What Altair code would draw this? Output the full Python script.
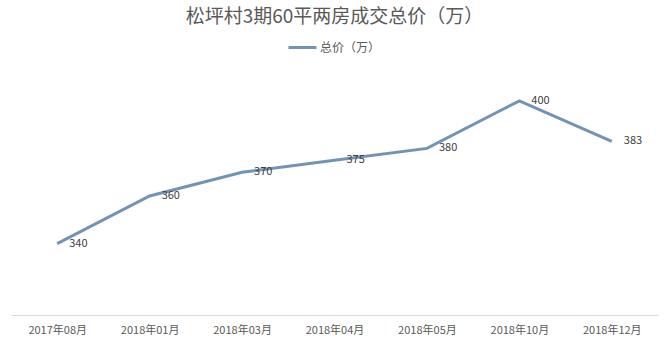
import altair as alt
import pandas as pd

# Monthly total price (万) for 60㎡ two-bedroom units
months = ["2017年08月", "2018年01月", "2018年03月", "2018年04月",
          "2018年05月", "2018年10月", "2018年12月"]
prices = [340, 360, 370, 375, 380, 400, 383]
series_name = "总价（万）"
chart_title = "松坪村3期60平两房成交总价（万）"

df = pd.DataFrame({"month": months, "price": prices, "series": series_name})

FONT = "Noto Sans CJK SC"
LINE_COLOR = "#7393b6"
TEXT_COLOR = "#595959"

x = alt.X("month:N", sort=months, title=None,
          scale=alt.Scale(type="point", padding=0.5),
          axis=alt.Axis(labelAngle=0, ticks=False, labelPadding=9,
                        labelFontSize=11, labelColor=TEXT_COLOR, labelFont=FONT,
                        domainColor="#d9d9d9", domainWidth=1, grid=False))
y = alt.Y("price:Q", title=None,
          scale=alt.Scale(domain=[310, 410], zero=False, nice=False),
          axis=None)

line = alt.Chart(df).mark_line(strokeWidth=3).encode(
    x=x, y=y,
    color=alt.Color("series:N", title=None,
                    scale=alt.Scale(range=[LINE_COLOR]),
                    legend=alt.Legend(orient="none", legendX=276, legendY=-45,
                                      symbolType="stroke", symbolSize=784,
                                      symbolStrokeWidth=3, labelFont=FONT,
                                      labelFontSize=12, labelColor=TEXT_COLOR,
                                      labelOffset=2)),
)

labels = alt.Chart(df).mark_text(align="left", baseline="middle", dx=12,
                                 fontSize=11, font=FONT, color="#404040").encode(
    x=x, y=y, text="price:Q")

chart = (line + labels).properties(
    width=647, height=238,
    autosize=alt.AutoSizeParams(type="none"),
    padding={"left": 11, "top": 77, "right": 10, "bottom": 29},
    title=alt.TitleParams(chart_title, anchor="middle", fontSize=19, font=FONT,
                          fontWeight="normal", color=TEXT_COLOR, offset=5),
).configure_view(strokeWidth=0)

chart.save("out.html", embed_options={"renderer": "svg", "actions": False})
